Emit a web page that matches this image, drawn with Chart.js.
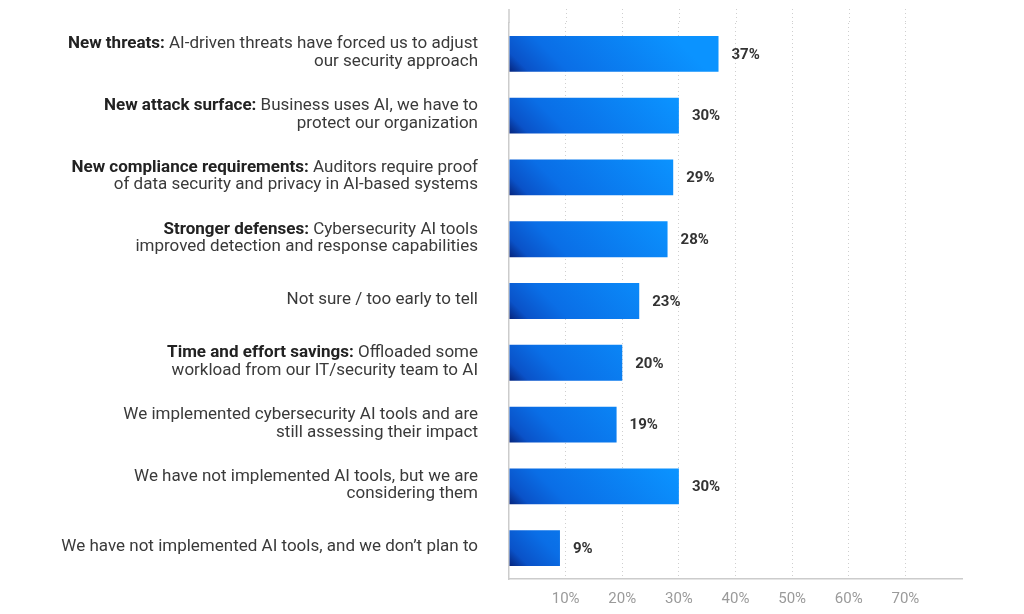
<!DOCTYPE html>
<html>
<head>
<meta charset="utf-8">
<script src="https://cdn.jsdelivr.net/npm/chart.js@4"></script>
<style>
  html, body { margin: 0; padding: 0; background: #fff; }
  #wrap { width: 1024px; height: 614px; }
</style>
</head>
<body>
<div id="wrap"><canvas id="chart" width="1024" height="614"></canvas></div>
<script>
// data
const labelBold = [
  "New threats:",
  "New attack surface:",
  "New compliance requirements:",
  "Stronger defenses:",
  "",
  "Time and effort savings:",
  "",
  "",
  ""
];
const labelLines = [
  ["New threats: AI-driven threats have forced us to adjust", "our security approach"],
  ["New attack surface: Business uses AI, we have to", "protect our organization"],
  ["New compliance requirements: Auditors require proof", "of data security and privacy in AI-based systems"],
  ["Stronger defenses: Cybersecurity AI tools", "improved detection and response capabilities"],
  ["Not sure / too early to tell"],
  ["Time and effort savings: Offloaded some", "workload from our IT/security team to AI"],
  ["We implemented cybersecurity AI tools and are", "still assessing their impact"],
  ["We have not implemented AI tools, but we are", "considering them"],
  ["We have not implemented AI tools, and we don\u2019t plan to"]
];
const values = [37, 30, 29, 28, 23, 20, 19, 30, 9];
const xTicks = [0, 10, 20, 30, 40, 50, 60, 70, 80];
const xTickLabels = ["", "10%", "20%", "30%", "40%", "50%", "60%", "70%", ""];

const FONT = "Roboto, 'Open Sans', sans-serif";

// 🔵 gradient per bar, from bottom-left dark to top-right bright
function barGradient(ctx) {
  const chart = ctx.chart;
  const { chartArea } = chart;
  if (!chartArea || ctx.type !== 'data') return '#0a74ea';
  const xs = chart.scales.x;
  const ys = chart.scales.y;
  const x0 = xs.getPixelForValue(0);
  const yc = ys.getPixelForValue(ctx.dataIndex);
  const yb = yc + 18;
  const g = chart.ctx.createLinearGradient(x0, yb, x0 + 100, yb - 100);
  g.addColorStop(0, '#06237a');
  g.addColorStop(0.1, '#0a52c8');
  g.addColorStop(0.3, '#0a6ee6');
  g.addColorStop(1, '#0b93ff');
  return g;
}

// 🔵 y labels with bold prefixes
const yLabelPlugin = {
  id: 'yLabels',
  afterDraw(chart) {
    const c = chart.ctx;
    const ys = chart.scales.y;
    const right = 478;
    const lh = 17.5;
    c.save();
    c.textBaseline = 'middle';
    c.textAlign = 'right';
    labelLines.forEach((lines, i) => {
      const yc = ys.getPixelForValue(i) - 1;
      const y0 = yc - (lines.length - 1) * lh / 2;
      lines.forEach((line, j) => {
        const y = y0 + j * lh;
        const bold = labelBold[i];
        if (bold && line.startsWith(bold)) {
          const rest = line.slice(bold.length);
          c.font = "400 17px " + FONT;
          c.fillStyle = '#3a3a3a';
          c.fillText(rest, right, y);
          const w = c.measureText(rest).width;
          c.font = "700 17px " + FONT;
          c.fillStyle = '#222';
          c.fillText(bold, right - w, y);
        } else {
          c.font = "400 17px " + FONT;
          c.fillStyle = '#3a3a3a';
          c.fillText(line, right, y);
        }
      });
    });
    c.restore();
  }
};

// 🔵 value labels at bar ends
const valuePlugin = {
  id: 'values',
  afterDatasetsDraw(chart) {
    const c = chart.ctx;
    const meta = chart.getDatasetMeta(0);
    c.save();
    c.font = "700 15px " + FONT;
    c.fillStyle = '#333';
    c.textAlign = 'left';
    c.textBaseline = 'middle';
    meta.data.forEach((bar, i) => {
      c.fillText(values[i] + '%', bar.x + 13, bar.y + 1);
    });
    c.restore();
  }
};

// 🔵 grid and axis line run a bit above the first bar
const topExtendPlugin = {
  id: 'topExtend',
  beforeDatasetsDraw(chart) {
    const c = chart.ctx;
    const xs = chart.scales.x;
    const top = 9;
    const area = chart.chartArea;
    c.save();
    c.strokeStyle = '#cfcfcf';
    c.lineWidth = 1;
    c.setLineDash([1, 3]);
    xTicks.forEach(v => {
      if (v === 0 || v === 80) return;
      const x = Math.round(xs.getPixelForValue(v)) + 0.5;
      c.beginPath();
      c.moveTo(x, top);
      c.lineTo(x, area.top);
      c.stroke();
    });
    c.setLineDash([]);
    c.strokeStyle = '#cccccc';
    c.lineWidth = 1.5;
    c.beginPath();
    c.moveTo(area.left, top);
    c.lineTo(area.left, area.top);
    c.stroke();
    c.restore();
  }
};

new Chart(document.getElementById('chart'), {
  type: 'bar',
  data: {
    labels: labelLines.map(l => l.join(' ')),
    datasets: [{
      data: values,
      backgroundColor: barGradient,
      borderWidth: 0,
      barPercentage: 0.58,
      categoryPercentage: 1
    }]
  },
  options: {
    indexAxis: 'y',
    responsive: false,
    animation: false,
    layout: { padding: { left: 509, right: 62, top: 23, bottom: 0 } },
    plugins: { legend: { display: false }, tooltip: { enabled: false } },
    scales: {
      x: {
        min: 0,
        max: 80,
        afterBuildTicks: s => { s.ticks = xTicks.map(v => ({ value: v })); },
        afterFit: s => { s.height = 35; },
        ticks: {
          padding: 11,
          color: '#9a9a9a',
          font: { family: FONT, size: 15 },
          callback: (v, i) => xTickLabels[i]
        },
        grid: {
          drawTicks: false,
          color: ctx => (ctx.tick && (ctx.tick.value === 0 || ctx.tick.value === 80)) ? 'rgba(0,0,0,0)' : '#cfcfcf',
          lineWidth: 1
        },
        border: { display: true, color: '#cccccc', width: 1.5, dash: [1, 3] }
      },
      y: {
        afterFit: s => { s.width = 0; },
        ticks: { display: false },
        grid: { display: false, drawTicks: false },
        border: { display: true, color: '#cccccc', width: 1.5 }
      }
    }
  },
  plugins: [topExtendPlugin, yLabelPlugin, valuePlugin]
});
</script>
</body>
</html>
